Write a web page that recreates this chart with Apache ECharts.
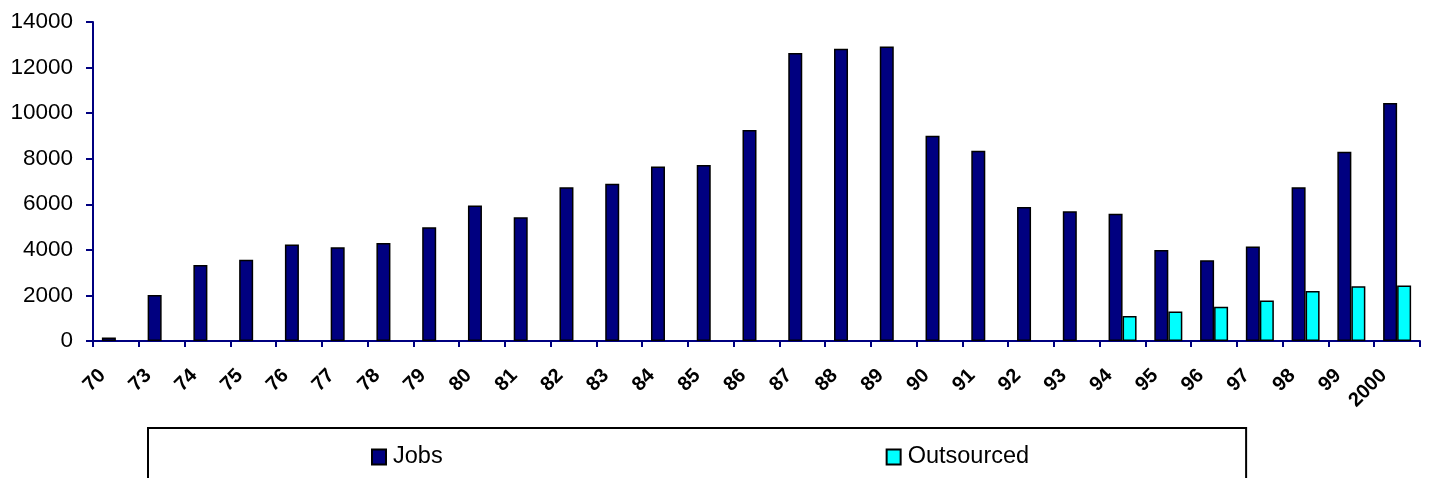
<!DOCTYPE html>
<html>
<head>
<meta charset="utf-8">
<title>Jobs</title>
<script src="https://cdn.jsdelivr.net/npm/echarts@6/dist/echarts.min.js"></script>
<style>
html,body{margin:0;padding:0;background:#fff}
#chart{width:1429px;height:478px}
</style>
</head>
<body>
<div id="chart"></div>
<script>
// years on the x axis
var years = ['70','73','74','75','76','77','78','79','80','81','82','83','84','85','86','87','88','89','90','91','92','93','94','95','96','97','98','99','2000'];
// jobs per year
var jobs = [150,2020,3340,3570,4240,4110,4300,4990,5950,5430,6750,6900,7660,7720,9260,12640,12830,12930,9010,8350,5880,5690,5590,3990,3540,4150,6750,8310,10450];
// outsourced, only from 94 on
var outsourced = [null,null,null,null,null,null,null,null,null,null,null,null,null,null,null,null,null,null,null,null,null,null,1100,1300,1500,1780,2190,2400,2440];
var yTicks = {min:0, max:14000, step:2000};

var chart = echarts.init(document.getElementById('chart'));
var navy = '#000080';

var option = {
    animation:false,
    grid:{
        left:93,
        right:9,
        top:22,
        bottom:137,
        containLabel:false
    },
    legend:{
        data:['Jobs','Outsourced'],
        left:148,
        top:428,
        orient:'horizontal',
        icon:'rect',
        itemWidth:14,
        itemHeight:15,
        itemGap:443,
        padding:[17,217,18,223],
        borderColor:'#000',
        borderWidth:2,
        textStyle:{
            color:'#000',
            fontFamily:'Liberation Sans, Arial, sans-serif',
            fontSize:23.5,
            padding:[0,0,0,2]
        }
    },
    xAxis:[{
        type:'category',
        data:years,
        boundaryGap:true,
        axisLine:{lineStyle:{color:navy,width:2}},
        axisTick:{show:true,length:6,lineStyle:{color:navy,width:2}},
        splitLine:{show:false},
        axisLabel:{
            interval:0,
            rotate:45,
            margin:18,
            padding:[0,19,0,0],
            color:'#000',
            fontWeight:'bold',
            fontSize:20,
            fontFamily:'Liberation Sans, Arial, sans-serif'
        }
    }],
    yAxis:[{
        type:'value',
        min:yTicks.min,
        max:yTicks.max,
        interval:yTicks.step,
        axisLine:{show:true,lineStyle:{color:navy,width:2}},
        axisTick:{show:true,length:7,lineStyle:{color:navy,width:2}},
        splitLine:{show:false},
        axisLabel:{
            color:'#000',
            fontSize:22.5,
            margin:20,
            fontFamily:'Liberation Sans, Arial, sans-serif',
            formatter:function(v){ return String(v); }
        }
    }],
    series:[
        {
            name:'Jobs',
            type:'bar',
            data:jobs,
            barWidth:14,
            barGap:'0%',
            itemStyle:{color:navy,borderColor:'#000',borderWidth:1.5}
        },
        {
            name:'Outsourced',
            type:'bar',
            data:outsourced,
            barWidth:14,
            barGap:'0%',
            itemStyle:{color:'#00ffff',borderColor:'#000',borderWidth:1.5}
        }
    ]
};

chart.setOption(option);
</script>
</body>
</html>
